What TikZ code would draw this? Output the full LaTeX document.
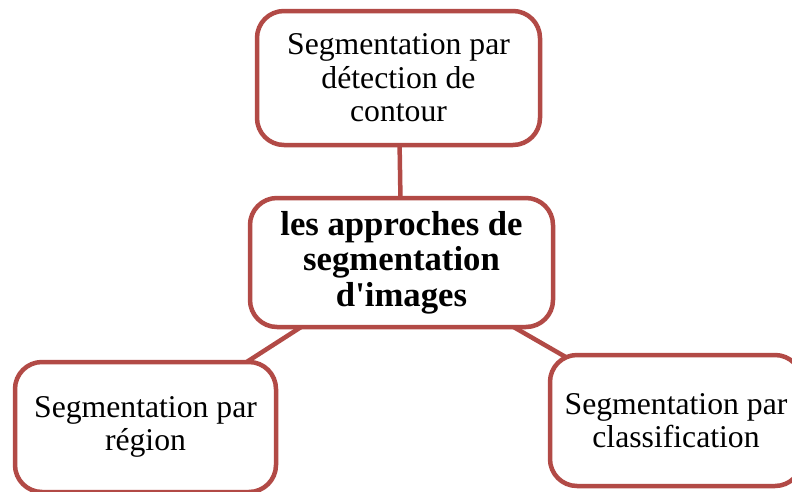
\documentclass[tikz,border=0pt]{standalone}
\usepackage{fontspec}
\setmainfont{Liberation Serif}[Ligatures=TeXOff]
\usetikzlibrary{backgrounds}
\definecolor{boxred}{RGB}{178,74,70}
\begin{document}
\begin{tikzpicture}[x=1pt,y=-1pt,
  box/.style={draw=boxred, line width=4.5pt, fill=white, rounded corners=27pt,
    align=center, inner sep=0pt, text=black},
  plain/.style={font=\fontsize{31.7}{33.5}\selectfont},
  heavy/.style={font=\fontsize{34.7}{35.5}\selectfont\bfseries},
  link/.style={draw=boxred, line width=4.5pt}]
  \useasboundingbox (0,0) rectangle (792,491);

  % central topic
  \node[box, heavy, minimum width=303pt, minimum height=129pt] (hub) at (401.5,262.5)
    {les approches de\\segmentation\\d'images};

  % the three approaches
  \node[box, plain, minimum width=283pt, minimum height=134pt] (contour) at (398.5,78)
    {Segmentation par\\détection de\\contour};
  \node[box, plain, minimum width=261pt, minimum height=130pt] (region) at (145.5,427)
    {Segmentation par\\région};
  \node[box, plain, minimum width=252pt, minimum height=131pt] (classif) at (676,420.5)
    {Segmentation par\\classification};

  % connectors, behind the boxes
  \begin{scope}[on background layer]
    \draw[link] (contour.center) -- (hub.center);
    \draw[link] (hub.center) -- (region.center);
    \draw[link] (hub.center) -- (classif.center);
  \end{scope}
\end{tikzpicture}
\end{document}
